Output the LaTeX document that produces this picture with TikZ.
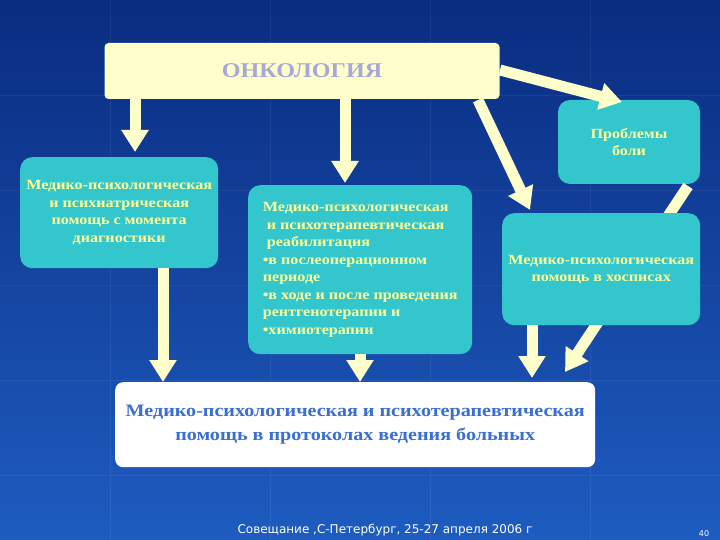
\documentclass[tikz,border=0pt]{standalone}
\usepackage{fontspec}
\setmainfont[FakeStretch=1.15]{Liberation Serif}
\newfontfamily\footfont{DejaVu Sans}
\usetikzlibrary{arrows.meta}
\definecolor{teal1}{HTML}{33C6CC}
\definecolor{cream}{HTML}{FFFFCC}
\definecolor{txty}{HTML}{FFFF99}
\definecolor{bgtop}{HTML}{0A2C80}
\definecolor{bgbot}{HTML}{1E5CC0}
\definecolor{btxt}{HTML}{3A6ED0}
\definecolor{ttl}{HTML}{A8A8D8}
\tikzset{
  box/.style={draw=none,fill=teal1,rounded corners=12pt,inner sep=3pt,font=\fontsize{14}{17}\selectfont\bfseries,text=txty,align=center},
  barrow/.style={draw=cream,line width=11pt,-{Triangle[length=22pt,width=26pt,fill=cream]}},
}
\begin{document}
\begin{tikzpicture}[x=1pt,y=-1pt]
\shade[top color=bgtop,bottom color=bgbot] (0,0) rectangle (720,540);
\useasboundingbox (0,0) rectangle (720,540);
\foreach \yy in {95,190,285,380,475} \draw[white,opacity=0.06] (0,\yy) -- (720,\yy);
\foreach \xx in {110,270,430,590} \draw[white,opacity=0.06] (\xx,0) -- (\xx,540);
% nodes
\node[fill=cream,rounded corners=4pt,minimum width=395pt,minimum height=56pt,font=\fontsize{21}{24}\selectfont\bfseries,text=ttl] (onk) at (302,71) {ОНКОЛОГИЯ};
\node[box,minimum width=142pt,minimum height=84pt] (pain) at (629,142) {Проблемы\\боли};
\node[box,minimum width=198pt,minimum height=111pt,anchor=north west,font=\fontsize{14}{17.5}\selectfont\bfseries] (left) at (20,157) {Медико-психологическая\\и психиатрическая\\помощь с момента\\диагностики};
\coordinate (painend) at (565,372);
\draw[barrow] (688,186) -- (painend);
\node[box,minimum width=198pt,minimum height=112pt,anchor=north west] (right) at (502,213) {Медико-психологическая\\помощь в хосписах};
\node[box,minimum width=224pt,minimum height=169pt,anchor=north west,align=left,inner sep=5pt,font=\fontsize{14}{17.5}\selectfont\bfseries] (mid) at (248,185) {Медико-психологическая\\\ и психотерапевтическая\\\ реабилитация\\•в послеоперационном\\периоде\\•в ходе и после проведения\\рентгенотерапии и\\•химиотерапии};
\node[fill=white,rounded corners=8pt,minimum width=480pt,minimum height=85pt,anchor=north west,font=\fontsize{17.5}{24}\selectfont\bfseries,text=btxt,align=center] (bot) at (115,382) {Медико-психологическая и психотерапевтическая\\помощь в протоколах ведения больных};
% arrows
\draw[barrow] (135,99) -- (135,152);
\draw[barrow] (345,99) -- (345,183);
\draw[barrow] (478,100) -- (530,210);
\draw[barrow] (500,70) -- (622,102);
\draw[barrow] (163,268) -- (163,382);
\draw[barrow] (360,354) -- (360,382);
\draw[barrow] (532,325) -- (532,378);
% footer
\node[font=\footfont\fontsize{12}{14}\selectfont,text=white] (foot) at (385,530) {Совещание ,С-Петербург, 25-27 апреля 2006 г};
\node[font=\footfont\fontsize{8}{10}\selectfont,text=white] (num) at (704,534) {40};
\end{tikzpicture}
\end{document}
